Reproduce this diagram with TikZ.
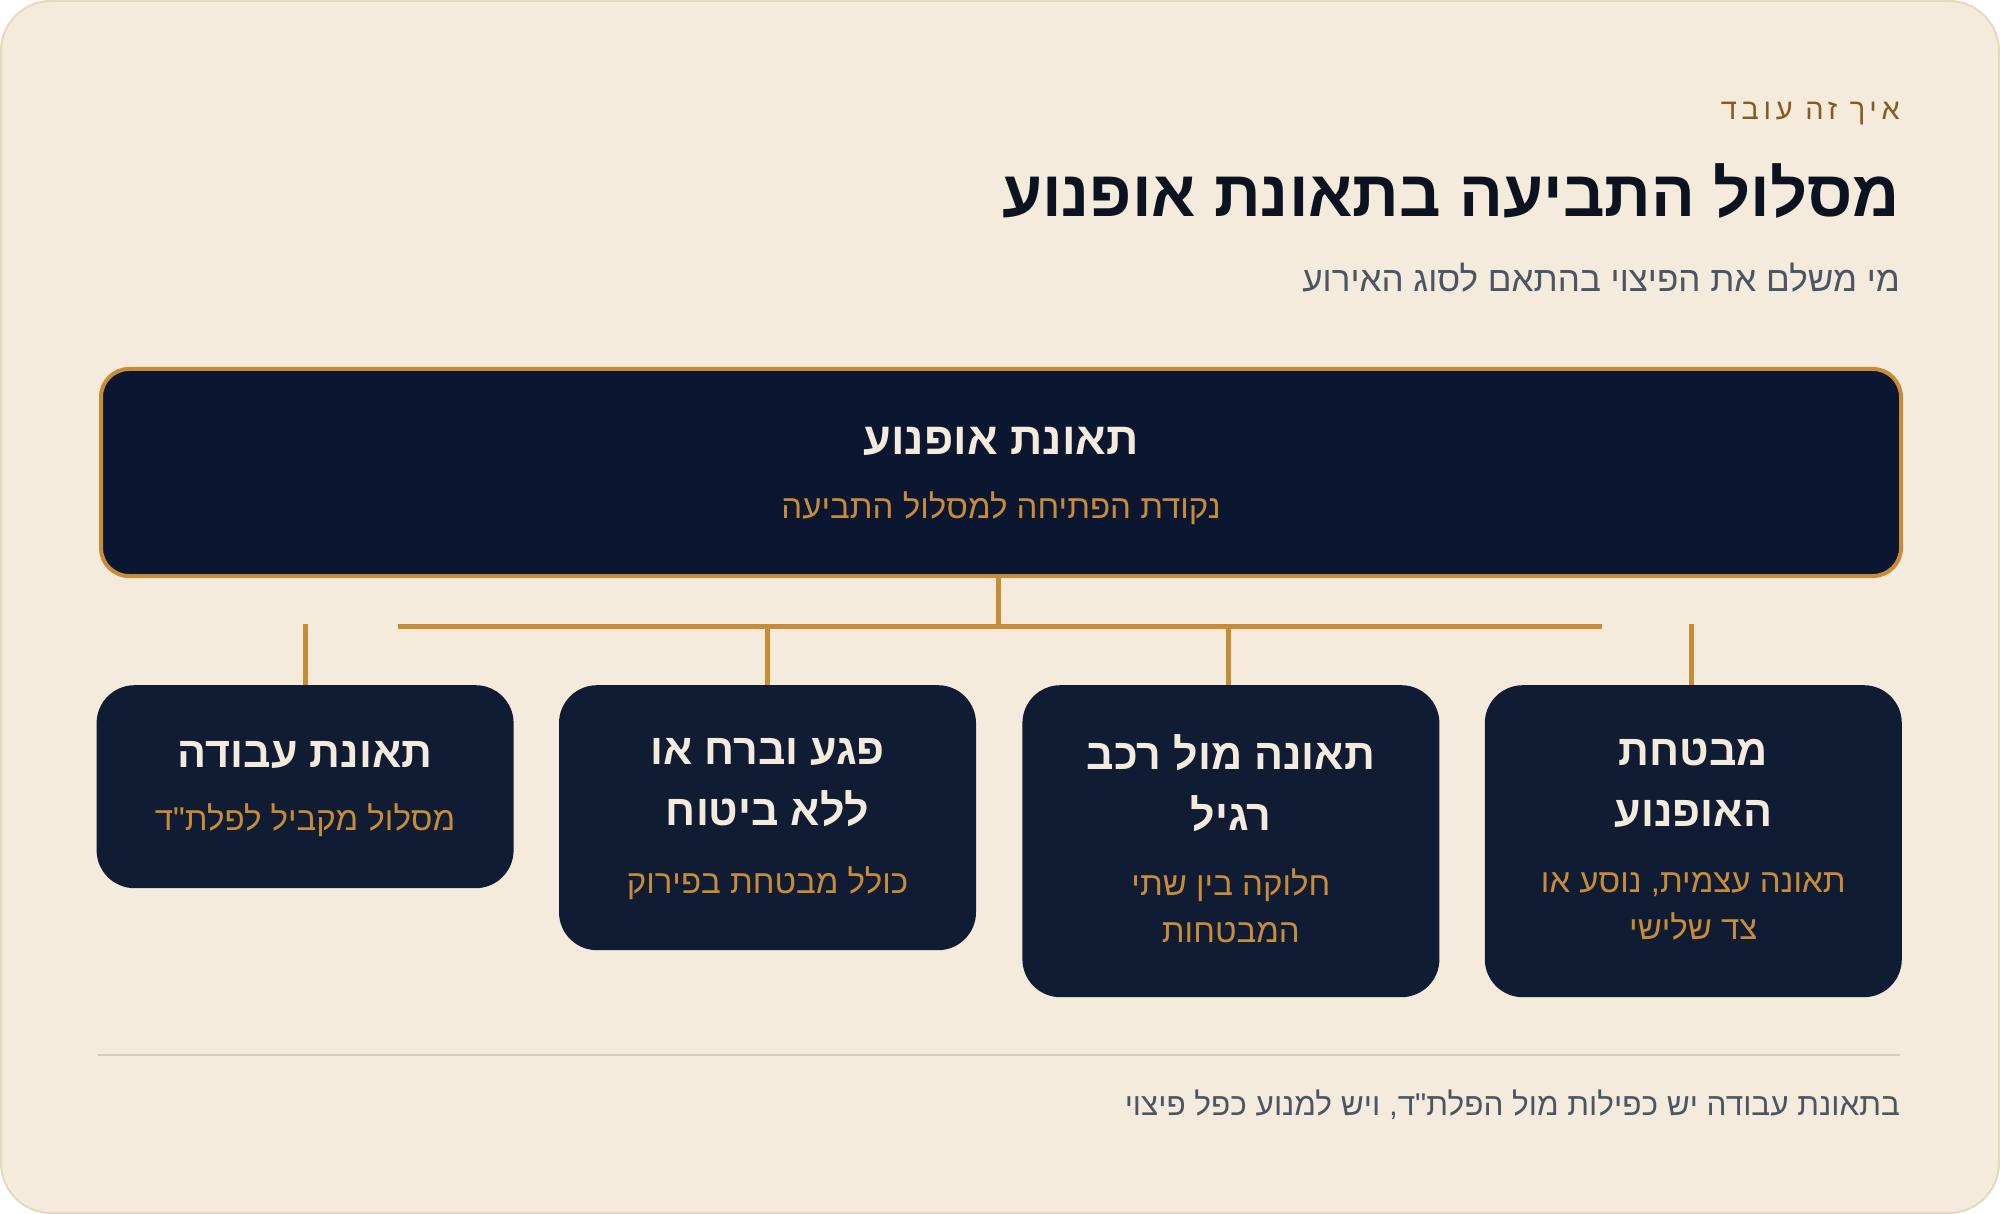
\documentclass[tikz,border=0pt]{standalone}
\usepackage{fontspec}
\usepackage{xcolor}
\usetikzlibrary{positioning}
\TeXXeTstate=1
\newfontfamily\hebfont[Script=Hebrew]{Liberation Sans}
\newfontfamily\hebspaced[Script=Hebrew,LetterSpace=16]{Liberation Sans}
\newcommand{\rtl}[1]{\beginR#1\endR}
\definecolor{paper}{HTML}{F4EBDC}
\definecolor{paperline}{HTML}{E4D9C2}
\definecolor{navy}{HTML}{0B1730}
\definecolor{cardnavy}{HTML}{101C34}
\definecolor{gold}{HTML}{C98C36}
\definecolor{cream}{HTML}{F4EBDC}
\definecolor{ink}{HTML}{0B1220}
\definecolor{brown}{HTML}{8A5A1C}
\definecolor{slate}{HTML}{4B5563}
\definecolor{rulecol}{HTML}{D6CCB8}
\tikzset{
         card/.style={fill=cardnavy, rounded corners=38pt, minimum width=417pt, inner sep=0pt},
         cardtitle/.style={text=cream, align=center, inner sep=0pt, font=\hebfont\bfseries\fontsize{43}{61}\selectfont},
         cardsub/.style={text=gold, align=center, inner sep=0pt, font=\hebfont\fontsize{33}{47}\selectfont},
         headtext/.style={anchor=east, inner sep=0pt},
         link/.style={draw=gold, line width=5pt},
}

\begin{document}
\begin{tikzpicture}[x=1pt, y=-1pt]
    \useasboundingbox (0,0) rectangle (2000,1214);
    \draw[fill=paper, draw=paperline, line width=2pt, rounded corners=50pt] (1,1) rectangle (1999,1213);

    % Kopf
    \node[headtext, text=brown, font=\hebspaced\fontsize{29}{32}\selectfont] (eyebrow) at (1900,113) {\rtl{איך זה עובד}};
    \node[headtext, text=ink, font=\hebfont\bfseries\fontsize{65}{70}\selectfont, below=78pt of eyebrow.east, anchor=east] (title) {\rtl{מסלול התביעה בתאונת אופנוע}};
    \node[headtext, text=slate, font=\hebfont\fontsize{35}{40}\selectfont, below=87pt of title.east, anchor=east] (subtitle) {\rtl{מי משלם את הפיצוי בהתאם לסוג האירוע}};

    % Start
    \node[fill=navy, draw=gold, line width=4pt, rounded corners=28pt, minimum width=1800pt, minimum height=207pt, anchor=north west] (start) at (99,367) {};
    \node[cardtitle, font=\hebfont\bfseries\fontsize{45}{50}\selectfont, below=74pt of start.north, anchor=center] (start_t) {\rtl{תאונת אופנוע}};
    \node[cardsub, below=141pt of start.north, anchor=center] (start_s) {\rtl{נקודת הפתיחה למסלול התביעה}};

    % Karten
    \node[card, minimum height=312pt, anchor=north east] (insurer) at (1902,685) {};
    \node[card, minimum height=312pt, left=45pt of insurer.north west, anchor=north east] (vehicle) {};
    \node[card, minimum height=265pt, left=46pt of vehicle.north west, anchor=north east] (hitrun) {};
    \node[card, minimum height=203pt, left=45pt of hitrun.north west, anchor=north east] (work) {};

    \node[cardtitle, below=98pt of insurer.north, anchor=center] (insurer_t) {\rtl{מבטחת}\\\rtl{האופנוע}};
    \node[cardsub, below=221pt of insurer.north, anchor=center] (insurer_s) {\rtl{תאונה עצמית, נוסע או}\\\rtl{צד שלישי}};

    \node[cardtitle, below=98pt of vehicle.north, anchor=center] (vehicle_t) {\rtl{תאונה מול רכב}\\\rtl{רגיל}};
    \node[cardsub, below=221pt of vehicle.north, anchor=center] (vehicle_s) {\rtl{חלוקה בין שתי}\\\rtl{המבטחות}};

    \node[cardtitle, below=98pt of hitrun.north, anchor=center] (hitrun_t) {\rtl{פגע וברח או}\\\rtl{ללא ביטוח}};
    \node[cardsub, below=198pt of hitrun.north, anchor=center] (hitrun_s) {\rtl{כולל מבטחת בפירוק}};

    \node[cardtitle, below=70pt of work.north, anchor=center] (work_t) {\rtl{תאונת עבודה}};
    \node[cardsub, below=135pt of work.north, anchor=center] (work_s) {\rtl{מסלול מקביל לפלת"ד}};

    % Verbindungen
    \coordinate (busL) at (398,626);
    \coordinate (busR) at (1602,626);
    \coordinate (stubtop) at (0,624);
    \draw[link] ([xshift=-3pt]start.south) -- ([xshift=-3pt]start.south |- busL);
    \draw[link] (busL) -- (busR);
    \draw[link] ([xshift=-2pt]vehicle.north) -- ([xshift=-2pt]vehicle.north |- busL);
    \draw[link] (hitrun.north) -- (hitrun.north |- busL);
    \draw[link] ([xshift=-2pt]insurer.north) -- ([xshift=-2pt]insurer.north |- stubtop);
    \draw[link] (work.north) -- (work.north |- stubtop);

    % Fuss
    \draw[draw=rulecol, line width=2pt] (98,1055) -- (1900,1055);
    \node[headtext, text=slate, font=\hebfont\fontsize{31.5}{36}\selectfont] (footer) at (1900,1105) {\rtl{בתאונת עבודה יש כפילות מול הפלת"ד, ויש למנוע כפל פיצוי}};
\end{tikzpicture}
\end{document}
